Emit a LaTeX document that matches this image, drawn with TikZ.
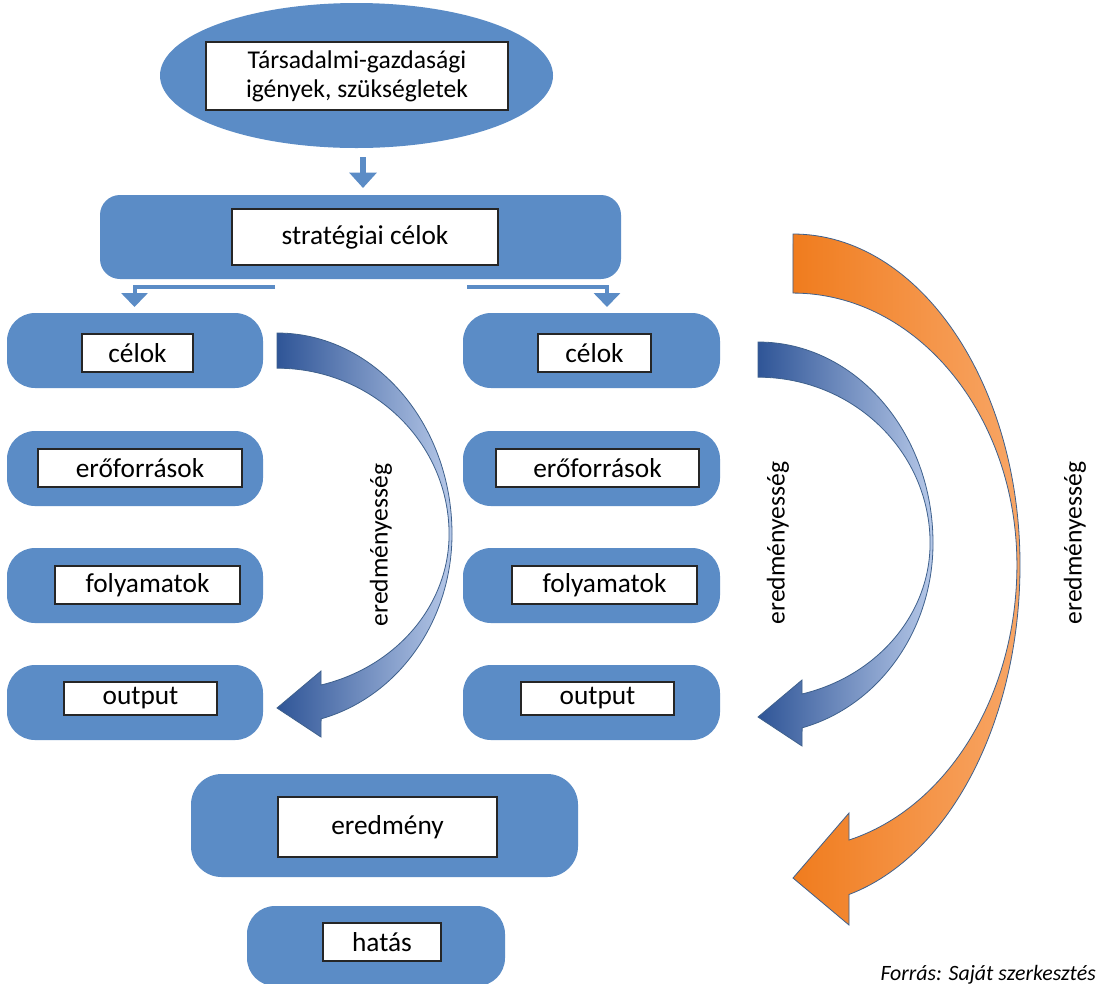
\documentclass[tikz,border=0pt]{standalone}
\usepackage{fontspec}
\setmainfont{Carlito}
\usetikzlibrary{shapes.geometric,arrows.meta}
\definecolor{boxblue}{RGB}{91,140,198}
\definecolor{bluedark}{RGB}{47,85,151}
\definecolor{bluelight}{RGB}{182,200,232}
\definecolor{orgdark}{RGB}{240,124,30}
\definecolor{orglight}{RGB}{248,166,102}
\definecolor{arrowline}{RGB}{62,96,140}
\tikzset{
  sz/.style 2 args={minimum width=#1*0.75pt, minimum height=#2*0.75pt},
  bluebox/.style={fill=boxblue, draw=none, rounded corners=21pt, inner sep=0pt},
  topell/.style={ellipse, fill=boxblue, draw=none, inner sep=0pt},
  whitebox/.style={fill=white, draw=black!85, line width=0.8pt, inner sep=0pt, font=\fontsize{20.5}{24}\selectfont},
  elbow/.style={draw=boxblue, line width=3pt, -{Triangle[width=19.5pt,length=10.5pt]}},
  downarrow/.style={draw=boxblue, line width=4.3pt, -{Triangle[width=20pt,length=11.5pt]}},
  bluecurve/.style={left color=bluedark, right color=bluelight, draw=arrowline, line width=0.6pt},
  orangecurve/.style={left color=orgdark, right color=orglight, draw=arrowline, line width=0.6pt},
  vlabel/.style={rotate=90, inner sep=0pt, font=\fontsize{19.2}{22}\selectfont},
}
\begin{document}
\begin{tikzpicture}[x=0.75pt,y=-0.75pt]
\useasboundingbox (0,0) rectangle (1098,983);
\fill[white] (0,0) rectangle (1098,983);

% top ellipse
\node[topell, sz={393}{145}] (top) at (356.5,75.5) {};
\node[whitebox, sz={302}{68}, align=center, font=\fontsize{19.2}{22}\selectfont] (topt) at (357,76) {Társadalmi-gazdasági\\igények, szükségletek};
\coordinate (a1) at (363,157);
\coordinate (a2) at (363,188);
\draw[downarrow] (a1) -- (a2);

% strategic goals
\node[bluebox, rounded corners=15pt, sz={521}{84}] (sb) at (360.5,237) {};
\node[whitebox, sz={266}{56}] (sbt) at (365,237) {stratégiai célok};

\coordinate (l1) at (275,287);
\coordinate (l2) at (134.5,307);
\coordinate (r1) at (467,287);
\coordinate (r2) at (607,307);
\draw[elbow] (l1) -| (l2);
\draw[elbow] (r1) -| (r2);

% left column
\node[bluebox, sz={256}{75}] (lc) at (135,350.5) {};
\node[whitebox, sz={111}{38}] (lct) at (137.5,353) {célok};
\node[bluebox, sz={256}{75}] (le) at (135,468.5) {};
\node[whitebox, sz={204}{38}] (let) at (140,468) {erőforrások};
\node[bluebox, sz={256}{75}] (lf) at (135,585.5) {};
\node[whitebox, sz={185}{38}] (lft) at (147.5,585) {folyamatok};
\node[bluebox, sz={256}{75}] (lo) at (135,702.5) {};
\node[whitebox, sz={153}{33}] (lot) at (140.5,698.5) {output};

% right column
\node[bluebox, sz={257}{75}] (rc) at (591.5,350.5) {};
\node[whitebox, sz={113}{38}] (rct) at (594.5,353) {célok};
\node[bluebox, sz={257}{75}] (re) at (591.5,468.5) {};
\node[whitebox, sz={203}{38}] (ret) at (597.5,468) {erőforrások};
\node[bluebox, sz={257}{75}] (rf) at (591.5,585.5) {};
\node[whitebox, sz={185}{38}] (rft) at (604.5,585) {folyamatok};
\node[bluebox, sz={257}{75}] (ro) at (591.5,702.5) {};
\node[whitebox, sz={153}{33}] (rot) at (597.5,698.5) {output};

% result and impact
\node[bluebox, rounded corners=23pt, sz={387}{103}] (er) at (384.5,825.5) {};
\node[whitebox, sz={219}{60}] (ert) at (387.5,827) {eredmény};
\node[bluebox, sz={258}{80}] (ha) at (376,946) {};
\node[whitebox, sz={118}{38}] (hat) at (382,942) {hatás};

% curved arrows
\begin{scope}[shift={(-481,-9)}]
\path[bluecurve] (758,342)
  arc[start angle=-90, end angle=0, x radius=175, y radius=201]
  arc[start angle=0, end angle=75.4, x radius=175, y radius=191]
  -- (802,746) -- (758,717) -- (802,680) -- (802,694)
  arc[start angle=75.2, end angle=0, x radius=172, y radius=156]
  arc[start angle=0, end angle=-90, x radius=172, y radius=166]
  -- cycle;
\end{scope}
\path[bluecurve] (758,342)
  arc[start angle=-90, end angle=0, x radius=175, y radius=201]
  arc[start angle=0, end angle=75.4, x radius=175, y radius=191]
  -- (802,746) -- (758,717) -- (802,680) -- (802,694)
  arc[start angle=75.2, end angle=0, x radius=172, y radius=156]
  arc[start angle=0, end angle=-90, x radius=172, y radius=166]
  -- cycle;
\path[orangecurve] (793,234)
  arc[start angle=-90, end angle=0, x radius=227, y radius=331]
  arc[start angle=0, end angle=75.7, x radius=227, y radius=340]
  -- (849,925) -- (793,878) -- (849,813) -- (849,840)
  arc[start angle=75.5, end angle=0, x radius=224, y radius=284]
  arc[start angle=0, end angle=-90, x radius=224, y radius=272]
  -- cycle;

% labels
\node[vlabel] (lab1) at (381,545) {eredményesség};
\node[vlabel] (lab2) at (778,543) {eredményesség};
\node[vlabel] (lab3) at (1075,543) {eredményesség};

\node[anchor=base east, inner sep=0pt, font=\itshape\fontsize{16.4}{18}\selectfont] (src) at (1096,980) {Forrás: Saját szerkesztés};
\end{tikzpicture}
\end{document}
